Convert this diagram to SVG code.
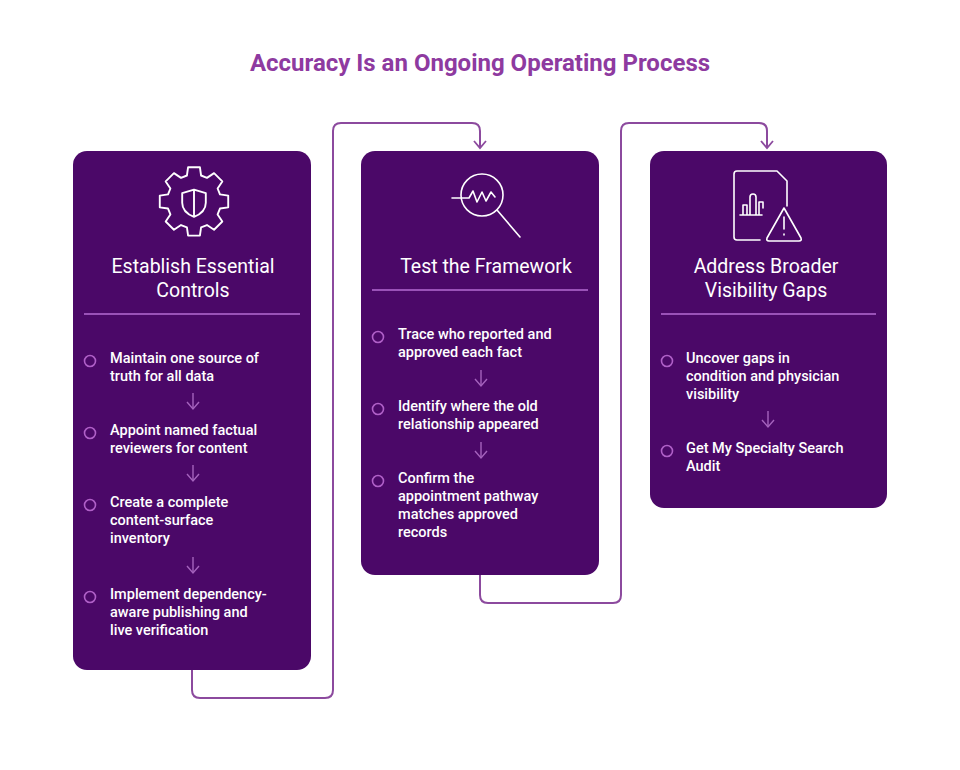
<svg xmlns="http://www.w3.org/2000/svg" width="960" height="770" viewBox="0 0 960 770">
<defs>
<marker id="ah" markerWidth="10" markerHeight="14" refX="8" refY="7" orient="auto" markerUnits="userSpaceOnUse" viewBox="0 0 10 14">
<path d="M1 1 L8 7 L1 13" fill="none" stroke="#8c4a9e" stroke-width="1.8"/>
</marker>
<marker id="sa" markerWidth="10" markerHeight="14" refX="8" refY="7" orient="auto" markerUnits="userSpaceOnUse" viewBox="0 0 10 14">
<path d="M1 1 L8 7 L1 13" fill="none" stroke="#a563bd" stroke-width="1.4"/>
</marker>
</defs>
<style>
.card{fill:#4b0868}
.h{font-family:Roboto,"Liberation Sans",sans-serif;font-size:19.5px;fill:#fff;text-anchor:middle}
.t{font-family:Roboto,"Liberation Sans",sans-serif;font-size:14.5px;fill:#fff;font-weight:500}
.b{fill:none;stroke:#b060c8;stroke-width:1.6}
.div{stroke:#9a52b8;stroke-width:2}
.ic{fill:none;stroke:#fff;stroke-width:1.6;stroke-linecap:round;stroke-linejoin:round}
.con{fill:none;stroke:#8c4a9e;stroke-width:2}
.sm{stroke:#a563bd;stroke-width:1.4;fill:none}
</style>
<rect width="960" height="770" fill="#fff"/>
<text x="480" y="71" text-anchor="middle" font-family="Roboto,'Liberation Sans',sans-serif" font-size="24" font-weight="700" fill="#8e3aa0">Accuracy Is an Ongoing Operating Process</text>
<g id="connectors">
<path class="con" d="M192 670 V690 Q192 698 200 698 H325 Q333 698 333 690 V131 Q333 123 341 123 H472 Q480 123 480 131 V148" marker-end="url(#ah)"/>
<path class="con" d="M480 575 V595 Q480 603 488 603 H613 Q621 603 621 595 V131 Q621 123 629 123 H759 Q767 123 767 131 V148" marker-end="url(#ah)"/>
</g>
<g id="card1">
<rect class="card" x="73" y="151" width="238" height="519" rx="14"/>
<g class="ic" transform="translate(194 205) scale(1.18) translate(-194 -205)">
<path d="M189 173 h10 l1 7 l5 2 l6 -4 l7 7 l-4 6 l2 5 l7 1 v10 l-7 1 l-2 5 l4 6 l-7 7 l-6 -4 l-5 2 l-1 7 h-10 l-1 -7 l-5 -2 l-6 4 l-7 -7 l4 -6 l-2 -5 l-7 -1 v-10 l7 -1 l2 -5 l-4 -6 l7 -7 l6 4 l5 -2 z"/>
<path d="M194 192 l10 3 v8 q0 8 -10 12 q-10 -4 -10 -12 v-8 z M194 192 v23"/>
</g>
<text class="h" x="193" y="273">Establish Essential</text>
<text class="h" x="193" y="297">Controls</text>
<line class="div" x1="84" y1="314" x2="300" y2="314"/>
<circle class="b" cx="90" cy="361" r="5.5"/>
<text class="t" x="110" y="363">Maintain one source of</text><text class="t" x="110" y="381">truth for all data</text>
<path class="sm" d="M193 393 V409" marker-end="url(#sa)"/>
<circle class="b" cx="90" cy="433" r="5.5"/>
<text class="t" x="110" y="435">Appoint named factual</text><text class="t" x="110" y="453">reviewers for content</text>
<path class="sm" d="M193 465 V481" marker-end="url(#sa)"/>
<circle class="b" cx="90" cy="505" r="5.5"/>
<text class="t" x="110" y="507">Create a complete</text><text class="t" x="110" y="525">content-surface</text><text class="t" x="110" y="543">inventory</text>
<path class="sm" d="M193 557 V573" marker-end="url(#sa)"/>
<circle class="b" cx="90" cy="597" r="5.5"/>
<text class="t" x="110" y="599">Implement dependency-</text><text class="t" x="110" y="617">aware publishing and</text><text class="t" x="110" y="635">live verification</text>
</g>
<g id="card2">
<rect class="card" x="361" y="151" width="238" height="424" rx="14"/>
<g class="ic">
<circle cx="482" cy="195" r="21"/>
<path d="M497 210 L520 237"/>
<path d="M452 198 H469 l4 -7 l4 11 l5 -10 l4 9 l5 -9 l4 5"/>
</g>
<text class="h" x="486" y="273">Test the Framework</text>
<line class="div" x1="372" y1="290" x2="588" y2="290"/>
<circle class="b" cx="378" cy="337" r="5.5"/>
<text class="t" x="398" y="339">Trace who reported and</text><text class="t" x="398" y="357">approved each fact</text>
<path class="sm" d="M481 370 V386" marker-end="url(#sa)"/>
<circle class="b" cx="378" cy="409" r="5.5"/>
<text class="t" x="398" y="411">Identify where the old</text><text class="t" x="398" y="429">relationship appeared</text>
<path class="sm" d="M481 442 V458" marker-end="url(#sa)"/>
<circle class="b" cx="378" cy="481" r="5.5"/>
<text class="t" x="398" y="483">Confirm the</text><text class="t" x="398" y="501">appointment pathway</text><text class="t" x="398" y="519">matches approved</text><text class="t" x="398" y="537">records</text>
</g>
<g id="card3">
<rect class="card" x="650" y="151" width="237" height="357" rx="14"/>
<g class="ic">
<path d="M760 240 H737 q-3 0 -3 -3 V174 q0 -3 3 -3 H777 l10 10 V206"/>
<path d="M743 215 V205 h4 v10 M750 215 V197 q0 -3 3 -3 q3 0 3 3 V215 M759 215 V202 h4 v6 M740 215 h22"/>
<path d="M784 208 L767 238 q-1 3 2 3 H799 q3 0 2 -3 Z"/>
<path d="M784 217 V229 M784 234 V235"/>
</g>
<text class="h" x="766" y="273">Address Broader</text>
<text class="h" x="766" y="297">Visibility Gaps</text>
<line class="div" x1="661" y1="314" x2="876" y2="314"/>
<circle class="b" cx="667" cy="361" r="5.5"/>
<text class="t" x="686" y="363">Uncover gaps in</text><text class="t" x="686" y="381">condition and physician</text><text class="t" x="686" y="399">visibility</text>
<path class="sm" d="M768 411 V427" marker-end="url(#sa)"/>
<circle class="b" cx="667" cy="451" r="5.5"/>
<text class="t" x="686" y="453">Get My Specialty Search</text><text class="t" x="686" y="471">Audit</text>
</g>
</svg>
